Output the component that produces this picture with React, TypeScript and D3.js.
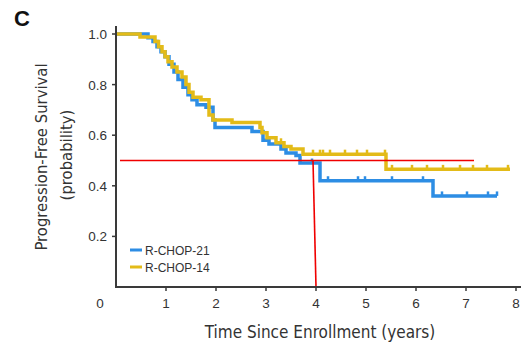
import * as d3 from "d3";

// Kaplan-Meier steps: [time in years, survival]
const rchop21Steps: [number, number][] = [
  [0, 1.0], [0.64, 0.985], [0.74, 0.97], [0.82, 0.95], [0.9, 0.93], [0.98, 0.91],
  [1.06, 0.88], [1.16, 0.85], [1.24, 0.82], [1.34, 0.79], [1.44, 0.76], [1.52, 0.74],
  [1.62, 0.72], [1.8, 0.71], [1.94, 0.66], [1.98, 0.63], [2.72, 0.615], [2.94, 0.58],
  [3.06, 0.565], [3.3, 0.545], [3.4, 0.53], [3.6, 0.52], [3.68, 0.49], [4.08, 0.42],
  [6.34, 0.36],
];
const rchop21End = 7.62;
const rchop21Censored = [3.92, 4.24, 4.84, 4.98, 5.52, 6.14, 6.52, 7.02, 7.44, 7.62];

const rchop14Steps: [number, number][] = [
  [0, 1.0], [0.48, 0.988], [0.78, 0.97], [0.85, 0.95], [0.92, 0.93], [0.98, 0.91],
  [1.04, 0.89], [1.12, 0.87], [1.22, 0.85], [1.32, 0.83], [1.4, 0.8], [1.46, 0.77],
  [1.54, 0.75], [1.7, 0.74], [1.86, 0.68], [1.94, 0.66], [2.32, 0.65], [2.88, 0.63],
  [2.92, 0.61], [3.02, 0.59], [3.2, 0.57], [3.36, 0.555], [3.5, 0.545], [3.74, 0.525],
  [5.4, 0.465],
];
const rchop14End = 7.88;
const rchop14Censored = [3.3, 3.94, 4.08, 4.14, 4.28, 4.58, 4.82, 5.02, 5.38, 5.52, 5.92, 6.22, 6.54, 6.88, 7.14, 7.42, 7.84];

const xTicks = [0, 1, 2, 3, 4, 5, 6, 7, 8];
const yTicks = [0.2, 0.4, 0.6, 0.8, 1.0];

// median annotation (red)
const medianLevel = 0.5;
const medianFrom = 0.08;
const medianTo = 7.16;
const medianDrop: [number, number][] = [[3.94, 0.5], [4.0, 0]];

const BLUE = "#2d8de4";
const YELLOW = "#e3bb18";
const AXIS = "#3a3a3a";

const x = d3.scaleLinear().domain([0, 8]).range([116, 516]);
const y = d3.scaleLinear().domain([0, 1]).range([287, 34]);

const stepLine = d3
  .line<[number, number]>()
  .x((d) => x(d[0]))
  .y((d) => y(d[1]))
  .curve(d3.curveStepAfter);

function survivalAt(steps: [number, number][], t: number) {
  let s = steps[0][1];
  for (const [tt, v] of steps) if (tt <= t) s = v;
  return s;
}

function Curve({ steps, end, censored, color }: { steps: [number, number][]; end: number; censored: number[]; color: string }) {
  const pts: [number, number][] = [...steps, [end, steps[steps.length - 1][1]]];
  return (
    <g>
      <path d={stepLine(pts) ?? ""} fill="none" stroke={color} strokeWidth={3.5} />
      {censored.map((t, i) => {
        const s = survivalAt(steps, t);
        return <line key={i} x1={x(t)} x2={x(t)} y1={y(s)} y2={y(s) - 4.5} stroke={color} strokeWidth={2.5} />;
      })}
    </g>
  );
}

export default function App() {
  const font = "'Liberation Sans', Arial, sans-serif";
  const cond = "'DejaVu Sans Condensed', 'Liberation Sans Narrow', sans-serif";
  return (
    <svg width={521} height={344} style={{ position: "absolute", left: 0, top: 0, background: "#fff" }} fontFamily={font}>
      <text x={14} y={26} fontSize={22} fontWeight="bold" fill="#111">C</text>

      <Curve steps={rchop21Steps} end={rchop21End} censored={rchop21Censored} color={BLUE} />
      <Curve steps={rchop14Steps} end={rchop14End} censored={rchop14Censored} color={YELLOW} />

      <line x1={x(medianFrom)} x2={x(medianTo)} y1={y(medianLevel)} y2={y(medianLevel)} stroke="#f00000" strokeWidth={1.6} />
      <line x1={x(medianDrop[0][0])} x2={x(medianDrop[1][0])} y1={y(medianDrop[0][1])} y2={y(medianDrop[1][1])} stroke="#f00000" strokeWidth={1.6} />

      {/* axes */}
      <line x1={x(0)} x2={x(0)} y1={26} y2={y(0) + 1} stroke={AXIS} strokeWidth={2} />
      <line x1={x(0) - 1} x2={521} y1={y(0)} y2={y(0)} stroke={AXIS} strokeWidth={2} />
      {yTicks.map((v) => (
        <g key={v}>
          <line x1={x(0) - 4} x2={x(0)} y1={y(v)} y2={y(v)} stroke={AXIS} strokeWidth={1.5} />
          <text x={107} y={y(v) + 5} fontSize={13.5} textAnchor="end" fill="#333">{d3.format(".1f")(v)}</text>
        </g>
      ))}
      {xTicks.map((v) => (
        <g key={v}>
          {v > 0 && <line x1={x(v)} x2={x(v)} y1={y(0)} y2={y(0) + 4} stroke={AXIS} strokeWidth={1.5} />}
          <text x={v === 0 ? 100 : x(v)} y={307.5} fontSize={13.5} textAnchor="middle" fill="#333">{v}</text>
        </g>
      ))}

      <text x={320} y={338} fontSize={17} textAnchor="middle" fill="#333" fontFamily={cond}>
        Time Since Enrollment (years)
      </text>
      <text transform="translate(47,157) rotate(-90)" fontSize={16.5} textAnchor="middle" fill="#333" fontFamily={cond}>
        Progression-Free Survival
      </text>
      <text transform="translate(72,155) rotate(-90)" fontSize={16.5} textAnchor="middle" fill="#333" fontFamily={cond}>
        (probability)
      </text>

      {/* legend */}
      <line x1={130} x2={142} y1={250} y2={250} stroke={BLUE} strokeWidth={3} />
      <text x={145} y={254.5} fontSize={12} fill="#333">R-CHOP-21</text>
      <line x1={130} x2={142} y1={267} y2={267} stroke={YELLOW} strokeWidth={3} />
      <text x={145} y={271.5} fontSize={12} fill="#333">R-CHOP-14</text>
    </svg>
  );
}
